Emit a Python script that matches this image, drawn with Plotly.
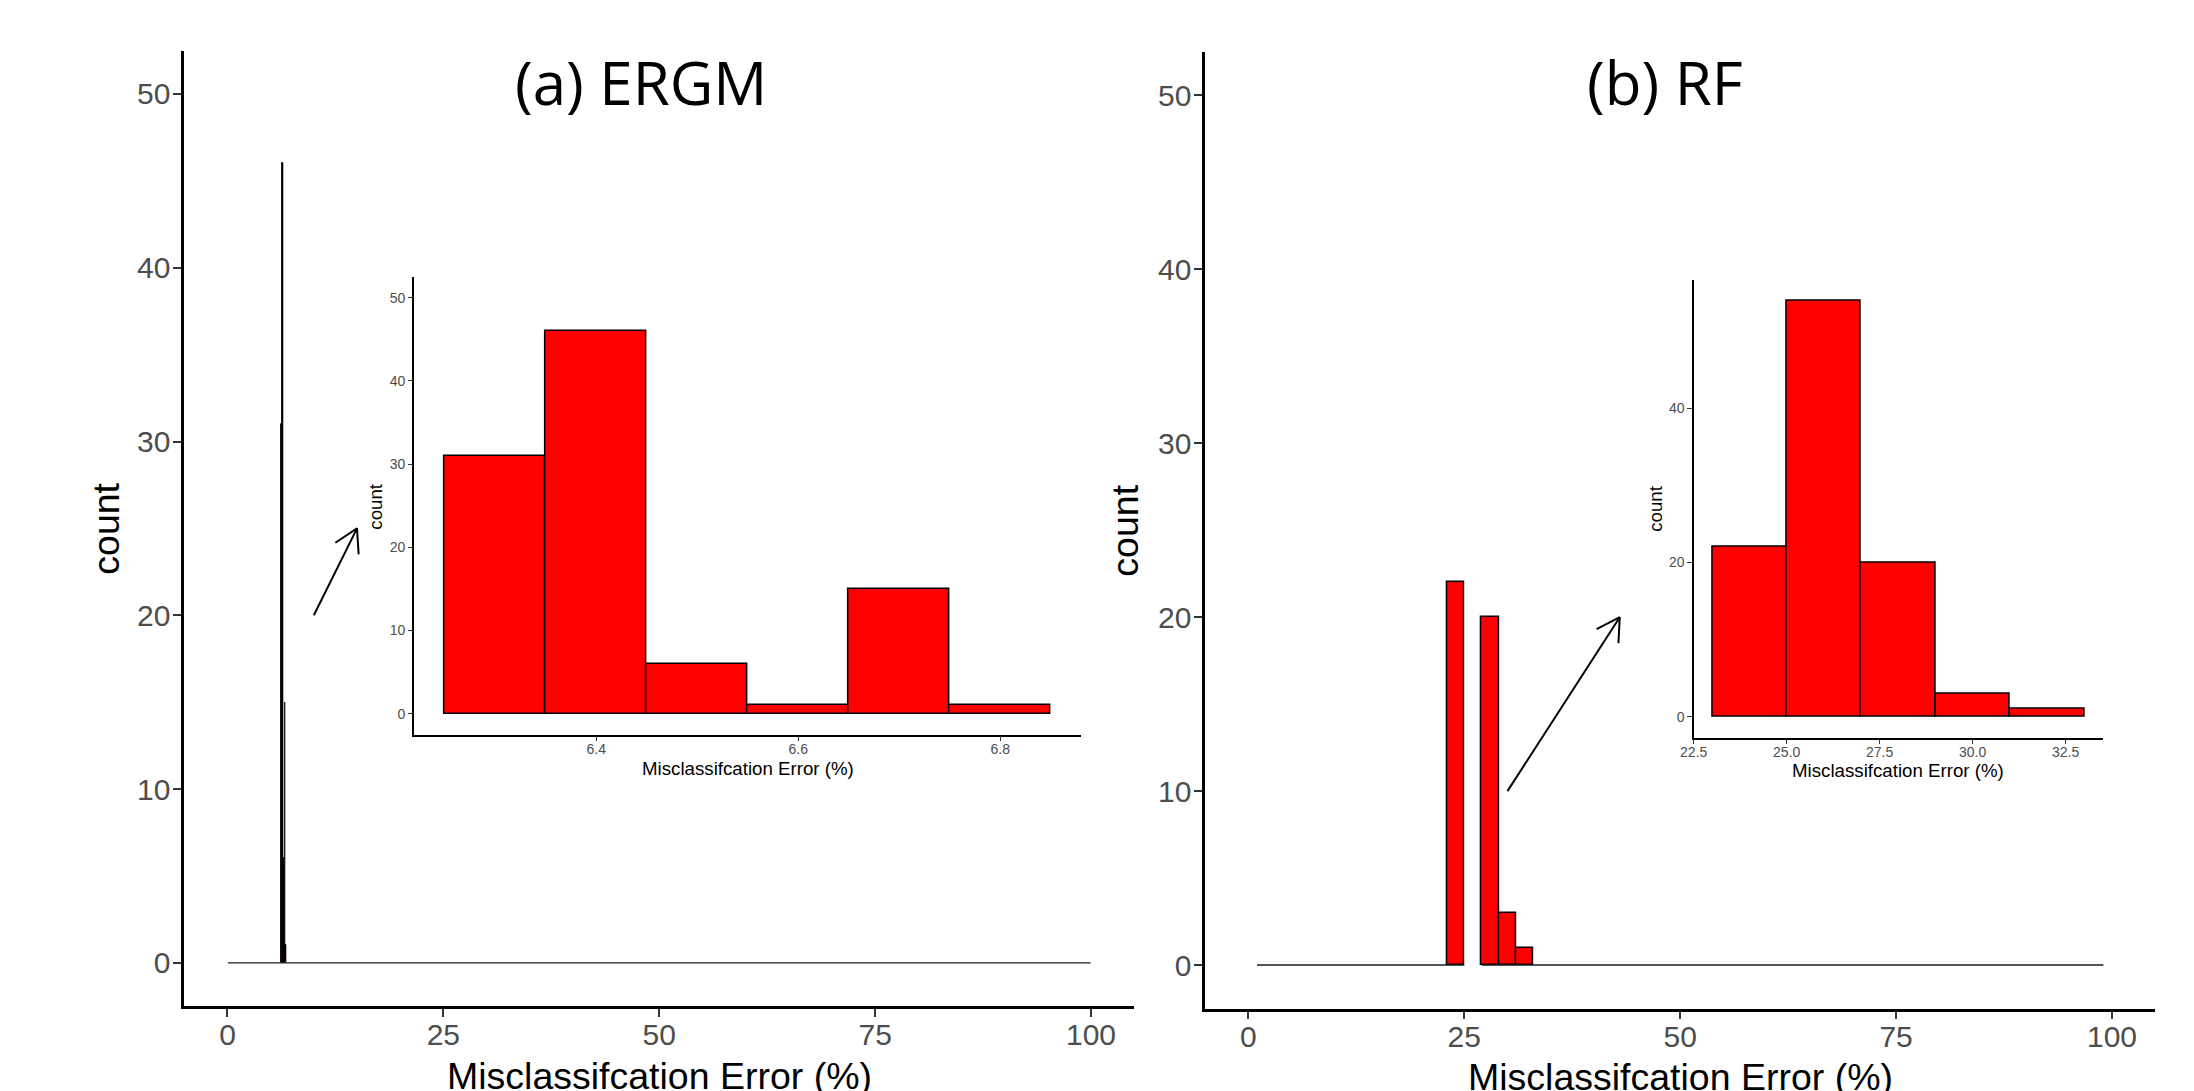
import math
import plotly.graph_objects as go

# ---------------- data ----------------
ergm_edges = [6.25, 6.35, 6.45, 6.55, 6.65, 6.75, 6.85]
ergm_counts = [31, 46, 6, 1, 15, 1]
rf_edges = [23, 25, 27, 29, 31, 33]
rf_counts = [22, 54, 20, 3, 1]
ergm_empty_span = [0.05, 99.95]   # extent of the zero-count bins of the main ERGM histogram
rf_empty_span = [1, 99]           # extent of the zero-count bins of the main RF histogram
main_xlim = [0, 100]
main_ylim = [0, 50]
main_xticks = [0, 25, 50, 75, 100]
main_yticks = [0, 10, 20, 30, 40, 50]
ergm_inset_xticks = [6.4, 6.6, 6.8]
ergm_inset_yticks = [0, 10, 20, 30, 40, 50]
rf_inset_xticks = [22.5, 25.0, 27.5, 30.0, 32.5]
rf_inset_xticklabels = ["22.5", "25.0", "27.5", "30.0", "32.5"]
rf_inset_yticks = [0, 20, 40]
ergm_arrow = {"tail": (10, 20), "head": (15, 25)}
rf_arrow = {"tail": (30, 10), "head": (43, 20)}
panel_titles = ["(a) ERGM", "(b) RF"]
xlabel = "Misclassifcation Error (%)"
ylabel = "count"

# ---------------- layout geometry (pixels) ----------------
W, H = 2194, 1091
# (left, right, top, bottom)
box_main_a = (184.3, 1134.2, 50.5, 1006.3)
box_main_b = (1205.2, 2155.2, 52.0, 1008.5)
box_ins_a = (414.4, 1081.0, 277.0, 734.5)
box_ins_b = (1693.7, 2102.8, 279.7, 737.5)

SANS = "Liberation Sans, Arial, sans-serif"
TICKGREY = "#4D4D4D"
RED = "#FF0000"


def expand(lo, hi, f=0.05):
    d = (hi - lo) * f
    return [lo - d, hi + d]


def xdom(b):
    return [b[0] / W, b[1] / W]


def ydom(b):
    return [1 - b[3] / H, 1 - b[2] / H]


def centers_widths(edges):
    c = [(edges[i] + edges[i + 1]) / 2 for i in range(len(edges) - 1)]
    w = [edges[i + 1] - edges[i] for i in range(len(edges) - 1)]
    return c, w


def baseline(span, edges, counts, ymax):
    dropped = [(edges[i], edges[i + 1]) for i, c in enumerate(counts) if c > ymax]
    xs = []
    start = span[0]
    for a, b in dropped:
        xs += [start, a, None]
        start = b
    xs += [start, span[1]]
    ys = [None if v is None else 0 for v in xs]
    return xs, ys


def arrow_xy(arrow, box, xr, yr, length_px=26, angle=30):
    sx = (box[1] - box[0]) / (xr[1] - xr[0])
    sy = (box[3] - box[2]) / (yr[1] - yr[0])
    (x0, y0), (x1, y1) = arrow["tail"], arrow["head"]
    dx, dy = (x0 - x1) * sx, (y0 - y1) * sy
    L = math.hypot(dx, dy)
    ux, uy = dx / L, dy / L
    xs, ys = [x0, x1, None], [y0, y1, None]
    for sgn in (1, -1):
        a = math.radians(angle) * sgn
        rx = ux * math.cos(a) - uy * math.sin(a)
        ry = ux * math.sin(a) + uy * math.cos(a)
        xs.append(x1 + rx * length_px / sx)
        ys.append(y1 + ry * length_px / sy)
        if sgn == 1:
            xs.append(x1)
            ys.append(y1)
    return xs, ys


main_xr = expand(*main_xlim)
main_yr = expand(*main_ylim)
ins_a_xr = expand(ergm_edges[0], ergm_edges[-1])
ins_a_yr = expand(*main_ylim)
ins_b_xr = expand(rf_edges[0], rf_edges[-1])
ins_b_yr = expand(0, max(rf_counts))

fig = go.Figure()

# ---- main ERGM ----
bx, by = baseline(ergm_empty_span, ergm_edges, ergm_counts, main_ylim[1])
fig.add_trace(go.Scatter(x=bx, y=by, mode="lines", line=dict(color="#1a1a1a", width=1.4),
                         xaxis="x", yaxis="y", hoverinfo="skip", showlegend=False))
c, w = centers_widths(ergm_edges)
keep = [i for i, v in enumerate(ergm_counts) if v <= main_ylim[1]]
fig.add_trace(go.Bar(x=[c[i] for i in keep], y=[ergm_counts[i] for i in keep],
                     width=[w[i] for i in keep], xaxis="x", yaxis="y",
                     marker=dict(color=RED, line=dict(color="black", width=1.2)),
                     showlegend=False))
ax_, ay_ = arrow_xy(ergm_arrow, box_main_a, main_xr, main_yr)
fig.add_trace(go.Scatter(x=ax_, y=ay_, mode="lines", line=dict(color="black", width=2),
                         xaxis="x", yaxis="y", hoverinfo="skip", showlegend=False))

# ---- main RF ----
bx, by = baseline(rf_empty_span, rf_edges, rf_counts, main_ylim[1])
fig.add_trace(go.Scatter(x=bx, y=by, mode="lines", line=dict(color="#1a1a1a", width=1.4),
                         xaxis="x2", yaxis="y2", hoverinfo="skip", showlegend=False))
c, w = centers_widths(rf_edges)
keep = [i for i, v in enumerate(rf_counts) if v <= main_ylim[1]]
fig.add_trace(go.Bar(x=[c[i] for i in keep], y=[rf_counts[i] for i in keep],
                     width=[w[i] for i in keep], xaxis="x2", yaxis="y2",
                     marker=dict(color=RED, line=dict(color="black", width=1.5)),
                     showlegend=False))
ax_, ay_ = arrow_xy(rf_arrow, box_main_b, main_xr, main_yr)
fig.add_trace(go.Scatter(x=ax_, y=ay_, mode="lines", line=dict(color="black", width=2),
                         xaxis="x2", yaxis="y2", hoverinfo="skip", showlegend=False))

# ---- insets ----
c, w = centers_widths(ergm_edges)
fig.add_trace(go.Bar(x=c, y=ergm_counts, width=w, xaxis="x3", yaxis="y3",
                     marker=dict(color=RED, line=dict(color="black", width=1.5)),
                     showlegend=False))
c, w = centers_widths(rf_edges)
fig.add_trace(go.Bar(x=c, y=rf_counts, width=w, xaxis="x4", yaxis="y4",
                     marker=dict(color=RED, line=dict(color="black", width=1.5)),
                     showlegend=False))


def axis(domain, rng, tickvals, anchor, size, ticklen, tickwidth, linewidth, standoff, ticktext=None):
    d = dict(domain=domain, range=rng, anchor=anchor, tickvals=tickvals,
             showline=True, linecolor="black", linewidth=linewidth,
             ticks="outside", ticklen=ticklen, tickwidth=tickwidth, tickcolor="#333333",
             tickfont=dict(family=SANS, size=size, color=TICKGREY),
             showgrid=False, zeroline=False, fixedrange=True, automargin=False,
             ticklabelstandoff=standoff)
    if ticktext is not None:
        d["ticktext"] = ticktext
    return d


layout = dict(
    width=W, height=H, autosize=False,
    margin=dict(l=0, r=0, t=0, b=0, pad=0, autoexpand=False),
    paper_bgcolor="white", plot_bgcolor="rgba(0,0,0,0)",
    showlegend=False, bargap=0,
    xaxis=axis(xdom(box_main_a), main_xr, main_xticks, "y", 30, 8, 2, 2.7, -8),
    yaxis=axis(ydom(box_main_a), main_yr, main_yticks, "x", 30, 8, 2, 2.7, -3),
    xaxis2=axis(xdom(box_main_b), main_xr, main_xticks, "y2", 30, 8, 2, 2.7, -8),
    yaxis2=axis(ydom(box_main_b), main_yr, main_yticks, "x2", 30, 8, 2, 2.7, -3),
    xaxis3=axis(xdom(box_ins_a), ins_a_xr, ergm_inset_xticks, "y3", 14, 4.5, 1.3, 1.7, -4),
    yaxis3=axis(ydom(box_ins_a), ins_a_yr, ergm_inset_yticks, "x3", 14, 4.5, 1.3, 1.7, 0),
    xaxis4=axis(xdom(box_ins_b), ins_b_xr, rf_inset_xticks, "y4", 14, 4.5, 1.3, 1.7, -4,
                ticktext=rf_inset_xticklabels),
    yaxis4=axis(ydom(box_ins_b), ins_b_yr, rf_inset_yticks, "x4", 14, 4.5, 1.3, 1.7, 0),
)
fig.update_layout(**layout)


def ann(text, xpx, ypx, size, family=SANS, angle=0, color="black"):
    return dict(text=text, x=xpx / W, y=1 - ypx / H, xref="paper", yref="paper",
                xanchor="center", yanchor="middle", showarrow=False, textangle=angle,
                font=dict(family=family, size=size, color=color))


annotations = [
    ann(panel_titles[0], 640.8, 82.5, 60, family="Open Sans, sans-serif"),
    ann(panel_titles[1], 1664.8, 82.5, 60, family="Open Sans, sans-serif"),
    ann(xlabel, (box_main_a[0] + box_main_a[1]) / 2, 1075.5, 37.5),
    ann(xlabel, (box_main_b[0] + box_main_b[1]) / 2, 1076.5, 37.5),
    ann(ylabel, 106.3, (box_main_a[2] + box_main_a[3]) / 2, 37.5, angle=-90),
    ann(ylabel, 1125.4, (box_main_b[2] + box_main_b[3]) / 2, 37.5, angle=-90),
    ann(xlabel, (box_ins_a[0] + box_ins_a[1]) / 2, 768, 18.7),
    ann(xlabel, (box_ins_b[0] + box_ins_b[1]) / 2, 770.5, 18.7),
    ann(ylabel, 375.9, (box_ins_a[2] + box_ins_a[3]) / 2, 18.7, angle=-90),
    ann(ylabel, 1655.2, (box_ins_b[2] + box_ins_b[3]) / 2, 18.7, angle=-90),
]
fig.update_layout(annotations=annotations)

fig.write_html("out.html", config={"displayModeBar": False},
               post_script="document.body.style.margin='0';document.body.style.overflow='hidden';")
